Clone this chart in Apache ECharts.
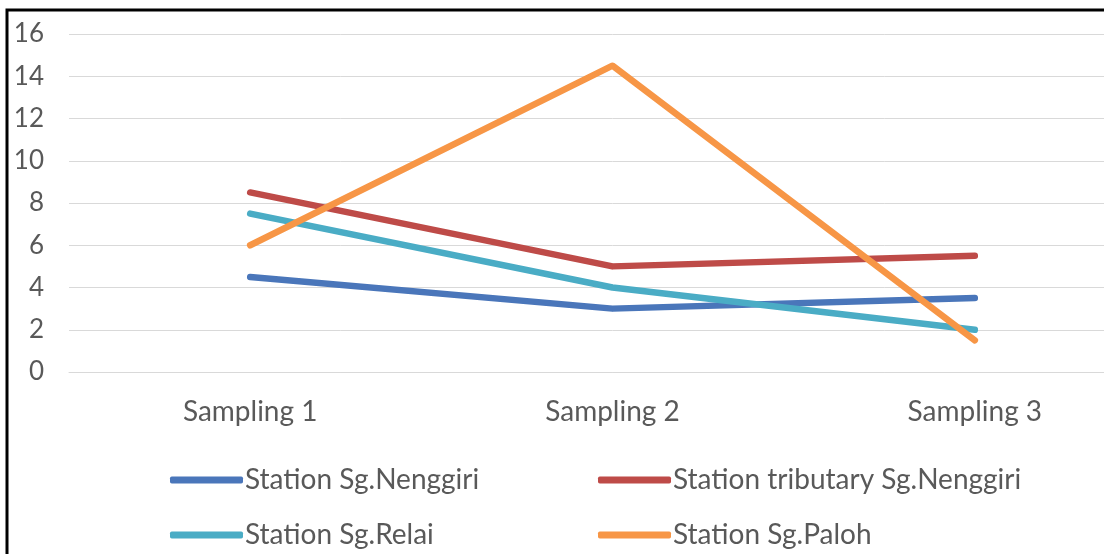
<!DOCTYPE html>
<html><head><meta charset="utf-8">
<script src="https://cdn.jsdelivr.net/npm/echarts@6/dist/echarts.min.js"></script>
<style>html,body{margin:0;padding:0;background:#fff;overflow:hidden;width:1104px;height:554px}#c{width:1160px;height:554px}</style>
</head><body><div id="c"></div>
<script>
const categories = ['Sampling 1', 'Sampling 2', 'Sampling 3'];
const yTicks = [0, 2, 4, 6, 8, 10, 12, 14, 16];
const seriesNames = ['Station Sg.Nenggiri', 'Station tributary Sg.Nenggiri', 'Station Sg.Relai', 'Station Sg.Paloh'];
const nenggiri = [4.5, 3, 3.5];
const tributary = [8.5, 5, 5.5];
const relai = [7.5, 4, 2];
const paloh = [6, 14.5, 1.5];
const colors = ['#4A76BA', '#BE4B48', '#4AACC5', '#F79646'];
const values = [nenggiri, tributary, relai, paloh];

const font = 'Lato, "Open Sans", sans-serif';
const fsY = 26;
const fs = 28;
const legendPos = [[170, 466], [598, 466], [170, 521], [598, 521]];

const chart = echarts.init(document.getElementById('c'));
chart.setOption({
  animation: false,
  backgroundColor: '#fff',
  grid: { left: 69, top: 34, width: 1087, height: 338 },
  xAxis: {
    type: 'category', data: categories, boundaryGap: true,
    axisLine: { lineStyle: { color: '#d9d9d9', width: 1 } },
    axisTick: { show: false },
    axisLabel: { color: '#595959', fontSize: fs, fontFamily: font, margin: 26 }
  },
  yAxis: {
    type: 'value', min: yTicks[0], max: yTicks[yTicks.length - 1], interval: 2,
    axisLine: { show: false }, axisTick: { show: false },
    splitLine: { lineStyle: { color: '#d9d9d9', width: 1 } },
    axisLabel: { color: '#595959', fontSize: fsY, fontFamily: font, margin: 25 }
  },
  legend: seriesNames.map((n, i) => ({
    data: [n], left: legendPos[i][0], top: legendPos[i][1],
    itemWidth: 73, itemHeight: 7, icon: 'roundRect', padding: 0,
    textStyle: { color: '#595959', fontSize: fs, fontFamily: font, padding: [2, 0, 0, -3] }
  })),
  graphic: [{
    type: 'rect', shape: { x: 7, y: 10, width: 1200, height: 700 },
    style: { fill: 'none', stroke: '#000', lineWidth: 3 }, z: 100
  }],
  series: seriesNames.map((n, i) => ({
    name: n, type: 'line', data: values[i], showSymbol: false, symbol: 'none',
    color: colors[i],
    lineStyle: { width: 6.5, color: colors[i], cap: 'round', join: 'round' }
  }))
});
</script></body></html>
